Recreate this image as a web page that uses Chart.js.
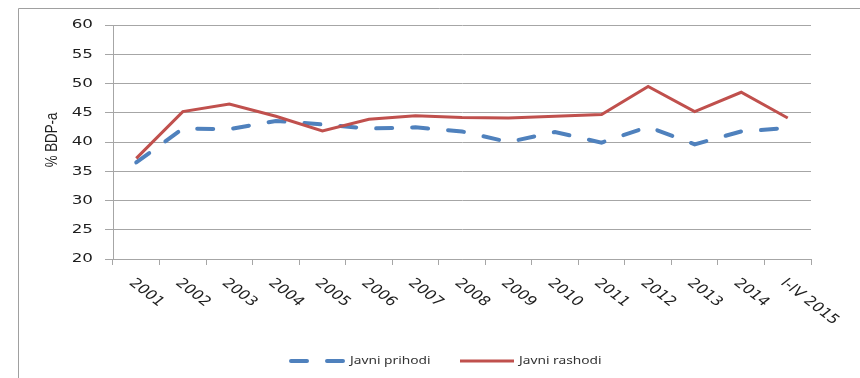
<!DOCTYPE html>
<html lang="en">
<head>
  <meta charset="UTF-8">
  <title>Javni prihodi i rashodi</title>
  <style>
    html, body { margin: 0; padding: 0; background: #fff; }
    #wrap { width: 860px; height: 378px; }
  </style>
</head>
<body>
  <div id="wrap"><canvas id="myChart" width="860" height="378"></canvas></div>
  <script src="https://cdn.jsdelivr.net/npm/chart.js"></script>
  <script>
    const categories = ['2001', '2002', '2003', '2004', '2005', '2006', '2007', '2008',
      '2009', '2010', '2011', '2012', '2013', '2014', 'I-IV 2015'];
    const prihodi = [36.5, 42.3, 42.2, 43.6, 43.0, 42.3, 42.5, 41.8, 40.0, 41.7, 39.9, 42.6, 39.6, 41.8, 42.4];
    const rashodi = [37.2, 45.2, 46.5, 44.4, 41.9, 43.9, 44.5, 44.2, 44.1, 44.4, 44.7, 49.5, 45.2, 48.5, 44.1];
    const yMin = 20, yMax = 60, yStep = 5;
    const yTitle = '% BDP-a';

    const gridColor = '#a6a6a6';
    const textColor = '#1e1e1e';
    const stretch = 1.29; // the original picture is stretched sideways

    const decor = {
      id: 'decor',
      beforeDraw(chart) {
        const ctx = chart.ctx;
        ctx.save();
        ctx.strokeStyle = '#a0a0a0';
        ctx.lineWidth = 1;
        ctx.beginPath();
        ctx.moveTo(18.5, 378);
        ctx.lineTo(18.5, 8.5);
        ctx.lineTo(860, 8.5);
        ctx.stroke();
        ctx.restore();
      },
      afterDraw(chart) {
        const ctx = chart.ctx;
        const xs = chart.scales.x, ys = chart.scales.y;
        ctx.save();
        ctx.fillStyle = textColor;
        ctx.font = '13px "DejaVu Sans"';

        // y tick labels
        ctx.textAlign = 'right';
        ctx.textBaseline = 'middle';
        ys.ticks.forEach(t => {
          const y = ys.getPixelForValue(t.value);
          ctx.save();
          ctx.translate(93, y);
          ctx.scale(stretch, 1);
          ctx.fillText(String(t.value), 0, 0);
          ctx.restore();
        });

        // x labels, slanted down to the right
        ctx.textAlign = 'left';
        categories.forEach((c, i) => {
          const x = xs.getPixelForValue(i);
          ctx.save();
          ctx.translate(x - 5, xs.top + 22);
          ctx.scale(stretch, 1);
          ctx.rotate(Math.PI / 4);
          ctx.fillText(c, 0, 0);
          ctx.restore();
        });

        // y title
        ctx.save();
        ctx.font = '14px "Liberation Sans"';
        ctx.textAlign = 'center';
        ctx.translate(52, (chart.chartArea.top + chart.chartArea.bottom) / 2 - 2);
        ctx.rotate(-Math.PI / 2);
        ctx.scale(0.95, 1.2);
        ctx.fillText(yTitle, 0, 0);
        ctx.restore();

        // legend
        const items = [
          { ds: chart.data.datasets[0], x: 289 },
          { ds: chart.data.datasets[1], x: 458 }
        ];
        const ly = 361;
        ctx.font = '11px "Noto Sans"';
        ctx.textBaseline = 'middle';
        items.forEach(it => {
          ctx.save();
          ctx.strokeStyle = it.ds.borderColor;
          ctx.lineWidth = it.ds.borderWidth;
          ctx.lineCap = it.ds.borderCapStyle || 'butt';
          ctx.setLineDash(it.ds.borderDash || []);
          ctx.beginPath();
          ctx.moveTo(it.x + 2, ly);
          ctx.lineTo(it.x + 56, ly);
          ctx.stroke();
          ctx.restore();
          ctx.save();
          ctx.fillStyle = '#333';
          ctx.translate(it.x + 61, ly);
          ctx.scale(1.25, 1);
          ctx.fillText(it.ds.label, 0, 0);
          ctx.restore();
        });
        ctx.restore();
      }
    };

    new Chart(document.getElementById('myChart'), {
      type: 'line',
      data: {
        labels: categories,
        datasets: [
          {
            label: 'Javni prihodi',
            data: prihodi,
            borderColor: '#4f81bd',
            borderWidth: 4,
            borderDash: [16, 20],
            borderCapStyle: 'round',
            pointRadius: 0,
            tension: 0,
            order: 2
          },
          {
            label: 'Javni rashodi',
            data: rashodi,
            borderColor: '#c0504d',
            borderWidth: 3,
            pointRadius: 0,
            tension: 0,
            order: 1
          }
        ]
      },
      options: {
        responsive: false,
        animation: false,
        events: [],
        layout: { padding: { left: 20, right: 49, top: 25, bottom: 0 } },
        plugins: {
          legend: { display: false },
          tooltip: { enabled: false }
        },
        scales: {
          x: {
            offset: true,
            grid: { offset: true, drawOnChartArea: false, drawTicks: true, tickLength: 6, color: gridColor },
            border: { color: gridColor },
            ticks: { display: false },
            afterFit(scale) { scale.height = 119; }
          },
          y: {
            min: yMin,
            max: yMax,
            grid: { color: gridColor, tickLength: 8 },
            border: { color: gridColor },
            ticks: { stepSize: yStep, display: false },
            afterFit(scale) { scale.width = 93; }
          }
        }
      },
      plugins: [decor]
    });
  </script>
</body>
</html>
